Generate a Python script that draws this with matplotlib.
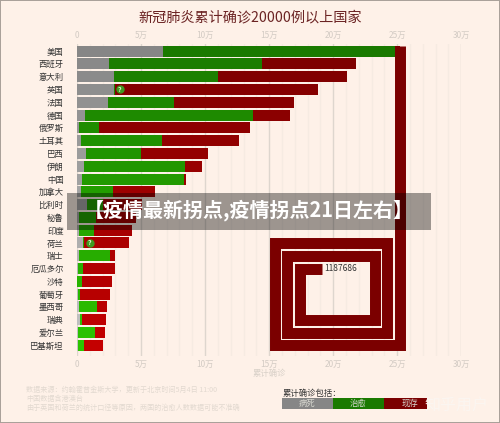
import numpy as np
import matplotlib
matplotlib.use("Agg")
import matplotlib.pyplot as plt
from matplotlib.patches import Rectangle

plt.rcParams['font.family'] = ['Noto Sans CJK SC', 'DejaVu Sans']

countries = ["美国", "西班牙", "意大利", "英国", "法国", "德国", "俄罗斯", "土耳其", "巴西", "伊朗", "中国", "加拿大",
             "比利时", "秘鲁", "印度", "荷兰", "瑞士", "厄瓜多尔", "沙特", "葡萄牙", "墨西哥", "瑞典", "爱尔兰", "巴基斯坦"]
# 单位: 万
deaths = [6.74, 2.47, 2.86, 2.86, 2.45, 0.63, 0.13, 0.29, 0.68, 0.57, 0.42, 0.31,
          0.76, 0.14, 0.14, 0.47, 0.16, 0.10, 0.02, 0.10, 0.18, 0.26, 0.08, 0.05]
healed_end = [24.8, 14.43, 11.04, 2.94, 7.55, 13.73, 1.75, 6.64, 4.97, 8.44, 8.38, 2.84,
              2.0, 1.46, 1.30, 0.52, 2.60, 0.44, 0.39, 0.23, 1.54, 0.36, 1.43, 0.55]
total = [25.2, 21.8, 21.1, 18.85, 16.93, 16.59, 13.52, 12.63, 10.2, 9.77, 8.48, 6.07,
         5.05, 4.58, 4.27, 4.09, 2.99, 2.97, 2.73, 2.55, 2.37, 2.24, 2.16, 2.03]

# 美国的现存部分绕成方形
spiral_x = [25.2, 25.2, 15.43, 15.43, 24.2, 24.2, 16.4, 16.4, 23.24, 23.24, 17.42, 17.42, 19.12]
spiral_y = [-0.43, 23, 23, 15, 15, 22, 22, 16, 16, 21, 21, 17, 17]
us_total = "1187686"

unknown_rows = [3, 15]
unknown_x = [3.36, 0.99]

tick_values = [0, 5, 10, 15, 20, 25, 30]
tick_labels = ["0", "5万", "10万", "15万", "20万", "25万", "30万"]
minor_ticks = [v for v in range(31) if v % 5]

footnotes = ["数据来源：约翰霍普金斯大学，更新于北京时间5月4日 11:00",
             "中国数据含港澳台",
             "由于英国和荷兰的统计口径等原因，两国的治愈人数数据可能不准确"]
legend_labels = ["病死", "治愈", "现存"]

W, H = 500, 423
BG = "#fef1e8"


def mix(a, b, t):
    a, b = np.array(matplotlib.colors.to_rgb(a)), np.array(matplotlib.colors.to_rgb(b))
    return a + (b - a) * t


def fx(px):
    return px / W


def fy(py):
    return 1 - py / H


fig = plt.figure(figsize=(5, 4.23), dpi=100, facecolor=BG)
ax = fig.add_axes([fx(77), fy(355.6), fx(461.3) - fx(77), fy(44) - fy(355.6)])
ax.set_facecolor("none")
ax.set_xlim(0, 30)
ax.set_ylim(23.8, -0.55)
for s in ax.spines.values():
    s.set_visible(False)

rows = np.arange(len(countries))
for i in rows:
    t = i / (len(countries) - 1)
    grey = mix("#868686", "#c4c4c4", t)
    green = mix("#1a7a00", "#2cc400", t)
    red = mix("#7b0000", "#c40000", t)
    ax.barh(i, deaths[i], height=0.86, color=grey, zorder=3)
    ax.barh(i, healed_end[i] - deaths[i], left=deaths[i], height=0.86, color=green, zorder=3)
    ax.barh(i, total[i] - healed_end[i], left=healed_end[i], height=0.86, color=red, zorder=3)

ax.plot(spiral_x, spiral_y, color="#7b0000", lw=7.9, solid_capstyle="butt",
        solid_joinstyle="miter", zorder=4)
ax.annotate(us_total, (spiral_x[-1], spiral_y[-1]), xytext=(1.5, 0), textcoords="offset points",
            va="center", ha="left", fontsize=6, color="#333333", zorder=5)

ax.scatter(unknown_x, unknown_rows, s=36, color="#3f9a20", zorder=5, linewidths=0)
for x, r in zip(unknown_x, unknown_rows):
    ax.text(x, r, "?", color="#e8f5d8", fontsize=5, ha="center", va="center", zorder=6, fontweight="bold")

ax.set_xticks(tick_values)
ax.set_xticklabels(tick_labels)
ax.set_xticks(minor_ticks, minor=True)
ax.grid(True, axis="x", which="major", color="#ded6ce", lw=1, zorder=1)
ax.grid(True, axis="x", which="minor", color="#f6ebe2", lw=1, zorder=1)
ax.tick_params(axis="x", which="both", length=0, top=False, bottom=False, labeltop=True, labelbottom=True,
               labelsize=6, labelcolor="#d3cbc4", pad=3)
ax.set_yticks(rows)
ax.set_yticklabels(countries, fontsize=6, color="#333333")
ax.tick_params(axis="y", length=0, pad=9.5)

fig.text(0.5, fy(17), "新冠肺炎累计确诊20000例以上国家", ha="center", va="center", fontsize=10.2, color="#6b2323")
fig.text(fx(253), fy(373), "累计确诊", ha="left", va="center", fontsize=6, color="#d8d0c8")

for line, py in zip(footnotes, [390.3, 399, 408.3]):
    fig.text(fx(26), fy(py), line, ha="left", va="center", fontsize=5.1, color="#e2d9d0")

# 图例
fig.text(fx(282.5), fy(393.7), "累计确诊包括：", ha="left", va="center", fontsize=6, color="#333333")
legend_edges = [281.7, 332.7, 384, 426.7]
legend_colors = ["#868686", "#1a7a00", "#7b0000"]
for j, lab in enumerate(legend_labels):
    fig.add_artist(Rectangle((fx(legend_edges[j]), fy(409)), fx(legend_edges[j + 1] - legend_edges[j]),
                             10.7 / H, transform=fig.transFigure, color=legend_colors[j], lw=0))
    fig.text(fx(legend_edges[j] + 25.5), fy(403.7), lab, ha="center", va="center", fontsize=6,
             color="#d8d8d0", zorder=6)

# 水印和横幅
fig.add_artist(Rectangle((fx(67.3), fy(230)), fx(431 - 67.3), 36.7 / H, transform=fig.transFigure,
                         color="black", alpha=0.38, lw=0, zorder=10))
fig.text(fx(249), fy(210.5), "【疫情最新拐点,疫情拐点21日左右】", ha="center", va="center", fontsize=14.4,
         color="white", fontweight="bold", zorder=11)
fig.text(fx(456), fy(405), "知乎用户", ha="center", va="center", fontsize=11.5, color="#fbf6f2",
         alpha=0.9, zorder=11)

fig.add_artist(Rectangle((0, 0), 1, 1, transform=fig.transFigure, fill=False, edgecolor="#a89f98", lw=1.4, zorder=12))

fig.savefig("out.png", dpi=100, facecolor=BG)
